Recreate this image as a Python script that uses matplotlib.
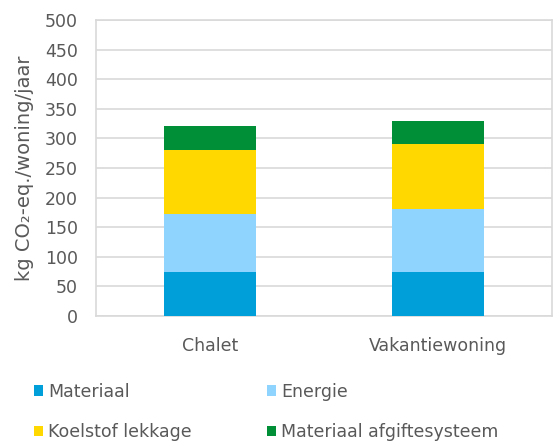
import matplotlib
matplotlib.use("Agg")
import matplotlib.pyplot as plt
import numpy as np

plt.rcParams['font.family'] = ['DejaVu Sans']

categories = ["Chalet", "Vakantiewoning"]
series_names = ["Materiaal", "Energie", "Koelstof lekkage", "Materiaal afgiftesysteem"]
materiaal = [75, 75]
energie = [97, 106]
koelstof = [109, 109]
afgifte = [40, 39]
colors = ["#009fda", "#8fd3ff", "#ffd800", "#008f36"]

fig = plt.figure(figsize=(5.55, 4.41), dpi=100)
ax = fig.add_axes([96 / 555, 125 / 441, 456 / 555, 296 / 441])

x = np.arange(len(categories))
bottom = np.zeros(len(categories))
for name, vals, c in zip(series_names, [materiaal, energie, koelstof, afgifte], colors):
    ax.bar(x, vals, 0.4, bottom=bottom, color=c, label=name, zorder=3)
    bottom += np.array(vals)

ax.set_xlim(-0.5, 1.5)
ax.set_ylim(0, 500)
ax.set_yticks(range(0, 501, 50))
ax.set_xticks(x)
ax.set_xticklabels(categories)
ax.yaxis.grid(True, color="#d9d9d9", linewidth=1.2, zorder=0)
for s in ax.spines.values():
    s.set_color("#d9d9d9")
    s.set_linewidth(1.2)
ax.tick_params(axis="both", length=0, colors="#595959", labelsize=12.5)
ax.tick_params(axis="x", pad=15)
ax.tick_params(axis="y", pad=13)
ax.set_ylabel("kg CO₂-eq./woning/jaar", color="#595959", fontsize=14, labelpad=8)

# row-wise legend: reorder for matplotlib's column-major fill
handles, labels = ax.get_legend_handles_labels()
order = [0, 2, 1, 3]
leg = fig.legend([handles[i] for i in order], [labels[i] for i in order],
                 ncol=2, loc="upper left",
                 bbox_to_anchor=(18 / 555, 1 - 367 / 441), frameon=False,
                 fontsize=12.5, handlelength=0.55, handleheight=0.55,
                 handletextpad=0.3, labelspacing=1.3, columnspacing=4.3,
                 labelcolor="#595959")

fig.savefig("out.png", dpi=100)
